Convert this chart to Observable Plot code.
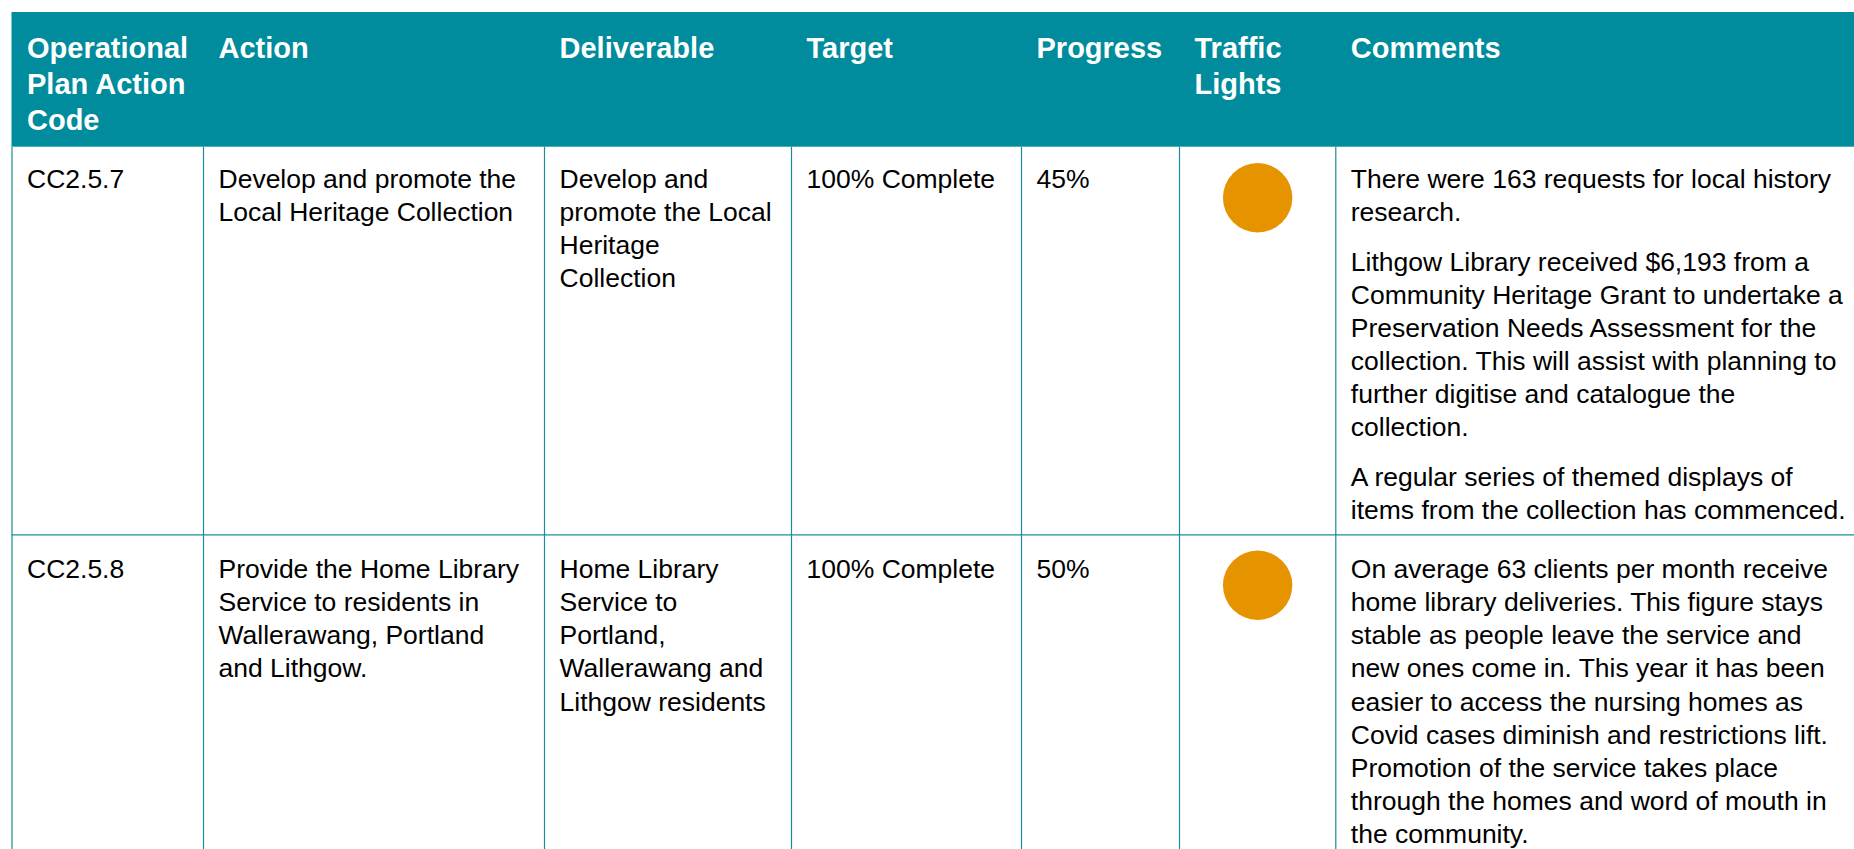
<!DOCTYPE html>
<html>
<head>
<meta charset="utf-8">
<script src="https://cdn.jsdelivr.net/npm/d3@7"></script>
<script src="https://cdn.jsdelivr.net/npm/@observablehq/plot@0.6"></script>
<style>
  html, body { margin: 0; padding: 0; background: #ffffff; overflow: hidden; }
  #chart svg { display: block; }
</style>
</head>
<body>
<div id="chart"></div>
<script>
// ---------- DATA ----------
const headers = [
  "Operational\nPlan Action\nCode",
  "Action",
  "Deliverable",
  "Target",
  "Progress",
  "Traffic\nLights",
  "Comments"
];
const codes = ["CC2.5.7", "CC2.5.8"];
const actions = [
  "Develop and promote the\nLocal Heritage Collection",
  "Provide the Home Library\nService to residents in\nWallerawang, Portland\nand Lithgow."
];
const deliverables = [
  "Develop and\npromote the Local\nHeritage\nCollection",
  "Home Library\nService to\nPortland,\nWallerawang and\nLithgow residents"
];
const targets = ["100% Complete", "100% Complete"];
const progress = ["45%", "50%"];
const trafficLights = ["amber", "amber"];
const comments = [
  [
    "There were 163 requests for local history\nresearch.",
    "Lithgow Library received $6,193 from a\nCommunity Heritage Grant to undertake a\nPreservation Needs Assessment for the\ncollection. This will assist with planning to\nfurther digitise and catalogue the\ncollection.",
    "A regular series of themed displays of\nitems from the collection has commenced."
  ],
  [
    "On average 63 clients per month receive\nhome library deliveries. This figure stays\nstable as people leave the service and\nnew ones come in. This year it has been\neasier to access the nursing homes as\nCovid cases diminish and restrictions lift.\nPromotion of the service takes place\nthrough the homes and word of mouth in\nthe community."
  ]
];

// ---------- LAYOUT / STYLE ----------
const W = 1854, H = 849;
const colEdges = [11.5, 203, 544, 791, 1021, 1179, 1335.3];
const headerTop = 12, headerBottom = 146.7;
const rowTops = [146.7, 534.3];
const rowBaselines = [187.5, 577.7]; // first text baseline in each row
const pad = 15;
const headFont = 29, headLH = 36;
const bodyFont = 26.5, bodyLH = 33.1, paraGap = 16.8;
const headBaseline = 57.3;
const lightOffset = 50.5, lightR = 34.7;
const teal = "#008C9C", lineColor = "#1A8D9C";
const lightColors = {amber: "#E69300", green: "#3FA535", red: "#D7261E"};
const font = "'Liberation Sans', Arial, Helvetica, sans-serif";

// ---------- BUILD TABLES FOR MARKS ----------
const headerCells = headers.map((t, i) => ({
  x: colEdges[i] + pad,
  y: headBaseline - 0.71 * headLH,
  text: t
}));

const bodyCells = [];
const columnsData = [codes, actions, deliverables, targets, progress];
rowTops.forEach((top, r) => {
  columnsData.forEach((col, c) => {
    bodyCells.push({x: colEdges[c] + pad, y: rowBaselines[r] - 0.71 * bodyLH, text: col[r]});
  });
  let baseline = rowBaselines[r];
  comments[r].forEach(p => {
    bodyCells.push({x: colEdges[6] + pad, y: baseline - 0.71 * bodyLH, text: p});
    baseline += p.split("\n").length * bodyLH + paraGap;
  });
});

const lights = trafficLights.map((l, r) => ({
  x: (colEdges[5] + colEdges[6]) / 2,
  y: rowTops[r] + lightOffset,
  color: lightColors[l]
}));

const verticals = colEdges.map(x => ({x}));
const horizontals = rowTops.slice(1).map(y => ({y}));

// ---------- PLOT ----------
const chart = Plot.plot({
  width: W,
  height: H,
  margin: 0,
  x: {domain: [0, W], range: [0, W], axis: null},
  y: {domain: [0, H], range: [0, H], axis: null},
  style: {fontFamily: font, background: "#ffffff"},
  marks: [
    Plot.rect([{}], {x1: colEdges[0], x2: W, y1: headerTop, y2: headerBottom, fill: teal}),
    Plot.ruleX(verticals, {x: "x", y1: headerBottom, y2: H, stroke: lineColor, strokeWidth: 1.2}),
    Plot.ruleY(horizontals, {y: "y", x1: colEdges[0], x2: W, stroke: lineColor, strokeWidth: 1.2}),
    Plot.text(headerCells, {
      x: "x", y: "y", text: "text",
      textAnchor: "start", lineAnchor: "top",
      fontSize: headFont, fontWeight: "bold", lineHeight: headLH / headFont,
      fill: "#ffffff", fontFamily: font
    }),
    Plot.text(bodyCells, {
      x: "x", y: "y", text: "text",
      textAnchor: "start", lineAnchor: "top",
      fontSize: bodyFont, lineHeight: bodyLH / bodyFont,
      fill: "#000000", fontFamily: font
    }),
    Plot.dot(lights, {x: "x", y: "y", r: lightR, fill: "color", stroke: "none"})
  ]
});
document.getElementById("chart").appendChild(chart);
</script>
</body>
</html>
